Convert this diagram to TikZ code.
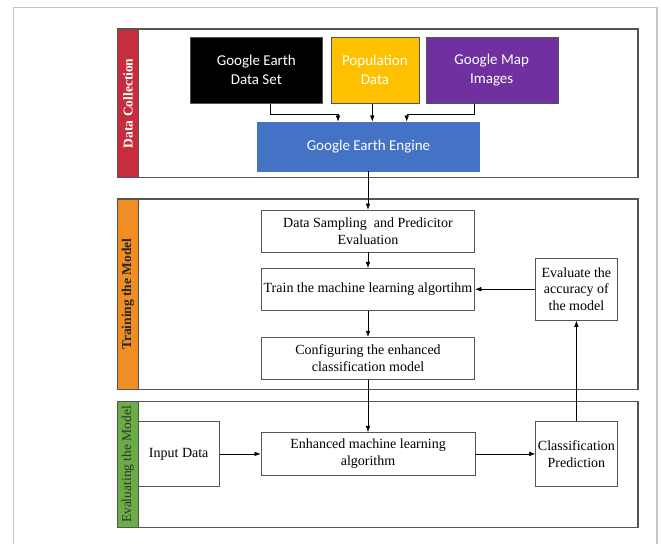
\documentclass[tikz,border=0pt]{standalone}
\usepackage{fontspec}
\setmainfont{Liberation Serif}
\newfontfamily\calfont{Carlito}
\usetikzlibrary{arrows.meta}
\definecolor{dcred}{RGB}{200,45,62}
\definecolor{tmorange}{RGB}{240,142,36}
\definecolor{emgreen}{RGB}{106,172,70}
\definecolor{gyellow}{RGB}{255,192,0}
\definecolor{gpurple}{RGB}{112,48,160}
\definecolor{gblue}{RGB}{68,114,196}
\definecolor{edgeg}{RGB}{85,85,85}
\definecolor{frameg}{RGB}{196,196,206}

\begin{document}
\begin{tikzpicture}[x=1pt,y=-1pt,>={Latex[length=6pt,width=4.5pt]},
  panel/.style={draw=edgeg,line width=1.3pt},
  bar/.style={draw=edgeg,line width=1pt,rotate=90,minimum height=20.4pt,inner sep=0pt,font=\fontsize{13.5}{15}\selectfont},
  src/.style={draw=edgeg,inner sep=0pt,minimum height=66.6pt,text=white,align=center,font=\calfont\fontsize{15}{19.3}\selectfont},
  stepbox/.style={draw=edgeg,fill=white,line width=0.9pt,inner sep=0pt,align=center,font=\fontsize{14}{16.8}\selectfont}]
\useasboundingbox (0,0) rectangle (661,544);
\draw[frameg,line width=1.3pt] (13.3,544) -- (13.3,7.7) -- (657,7.7) -- (657,544);
% panels
\draw[panel] (117.7,29) rectangle (638,177.5);
\draw[panel] (117.7,199) rectangle (638,389.3);
\draw[panel] (117.5,401.3) rectangle (638,527.7);
\node[bar,fill=dcred,text=white,minimum width=148.5pt] (12) at (127.9,103.3) {\bfseries Data Collection};
\node[bar,fill=tmorange,text=black!85,minimum width=190.3pt] (13) at (127.9,294.2) {\bfseries Training the Model};
\node[bar,fill=emgreen,text=black!80,minimum width=126.4pt] (14) at (127.9,464.5) {Evaluating the Model};
% data collection
\node[src,fill=black,minimum width=132.7pt] (1) at (256.3,70) {Google Earth\\Data Set};
\node[src,fill=gyellow,minimum width=87.7pt] (2) at (374.9,70) {Population\\Data};
\node[src,fill=gpurple,minimum width=132pt] (3) at (491.7,70) {Google Map\\Images};
\node[src,fill=gblue,draw=gblue,minimum width=222.3pt,minimum height=49pt] (4) at (368.5,146.2) {Google Earth Engine};
% training
\node[stepbox,minimum width=213.6pt,minimum height=42pt] (5) at (368,231) {Data Sampling\ \ and Predicitor\\Evaluation};
\node[stepbox,minimum width=213.6pt,minimum height=41.7pt] (6) at (368,289.2) {Train the machine learning algortihm};
\node[stepbox,minimum width=213.6pt,minimum height=42pt] (7) at (368,358.3) {Configuring the enhanced\\classification model};
\node[stepbox,minimum width=82.7pt,minimum height=62.4pt] (8) at (576.4,289.2) {Evaluate the\\accuracy of\\the model};
% evaluating
\node[stepbox,minimum width=81.3pt,minimum height=64.3pt] (9) at (178.7,453.9) {Input Data};
\node[stepbox,minimum width=214pt,minimum height=43pt] (10) at (368,453.9) {Enhanced machine learning\\algorithm};
\node[stepbox,minimum width=81.6pt,minimum height=64.3pt] (11) at (576.4,453.9) {Classification\\Prediction};
\draw[->] ([xshift=13.7pt]1.south) -- ++(0,10.7) -| ([xshift=-30.5pt]4.north);
\draw[->] ([xshift=-2.6pt]2.south) -- ([xshift=-2.6pt]2.south |- 4.north);
\draw[->] ([xshift=-17.7pt]3.south) -- ++(0,10.7) -| ([xshift=38.2pt]4.north);
\draw[->] (4.south -| 5.north) -- (5.north);
\draw[->] (5) to (6);
\draw[->] (6) to (7);
\draw[->] (7) to (10);
\draw[->] (9) to (10);
\draw[->] (10) to (11);
\draw[->] (11) to (8);
\draw[->] (8) to (6);
\end{tikzpicture}
\end{document}
